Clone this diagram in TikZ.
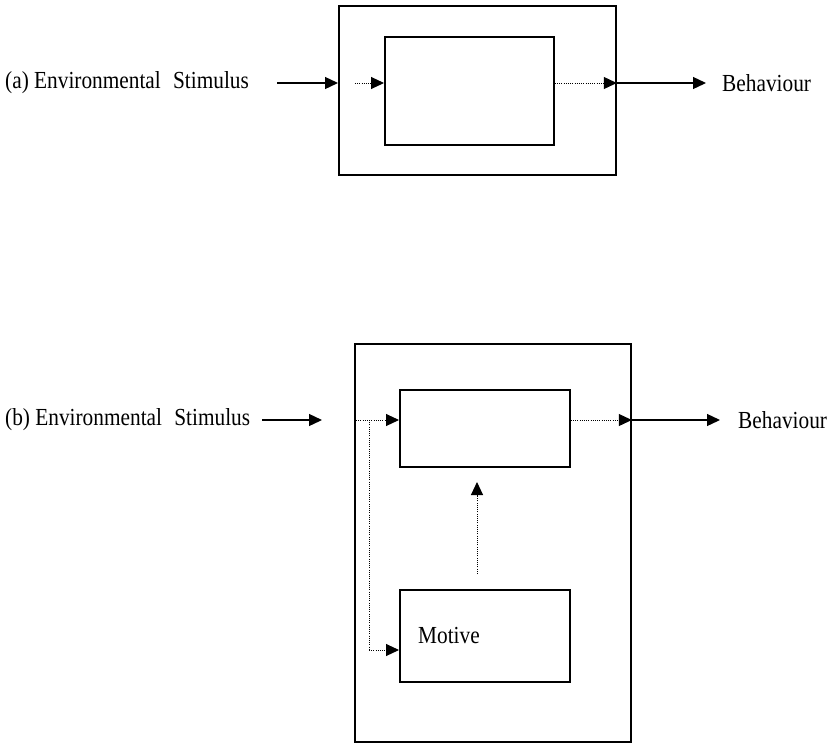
\documentclass[tikz,border=0pt]{standalone}
\usepackage{fontspec}
\setmainfont{Liberation Serif}[FakeStretch=0.87]
\usetikzlibrary{arrows.meta}
\begin{document}
\begin{tikzpicture}[x=1pt,y=-1pt,
  every node/.style={font=\fontsize{24.5}{28}\selectfont, inner sep=0pt},
  box/.style={draw, line width=1.8pt, minimum width=#1, anchor=north west},
  tip/.style={-{Triangle[length=13pt,width=12pt]}},
  solidarr/.style={tip, line width=1.3pt},
  dotarr/.style={tip, line width=1pt, dash pattern=on 1pt off 1.2pt},
  dotline/.style={line width=1pt, dash pattern=on 1pt off 1.2pt}]
\useasboundingbox (0,0) rectangle (829,742);

% ---------- (a) ----------
\node[box=277pt, minimum height=169pt] (outerA) at (338,5) {};
\node[box=169pt, minimum height=108pt] (innerA) at (384,36) {};
\node[anchor=west] (stimA) at (5,83) {(a) Environmental\hspace{0.5em}Stimulus};
\node[anchor=west] (behA) at (722,83) {Behaviour};

\coordinate (a0) at (277,83);
\coordinate (a1) at (outerA.west |- a0);
\coordinate (a2) at (355,83);
\coordinate (a3) at (innerA.west |- a0);
\coordinate (a4) at (innerA.east |- a0);
\coordinate (a5) at (outerA.east |- a0);
\coordinate (a6) at (706,83);
\draw[solidarr] (a0) -- (a1);
\draw[dotarr] (a2) -- (a3);
\draw[dotarr] (a4) -- (a5);
\draw[solidarr] (a5) -- (a6);

% ---------- (b) ----------
\node[box=276pt, minimum height=398pt] (outerB) at (354,343) {};
\node[box=170pt, minimum height=77pt] (procB) at (399,389) {};
\node[box=170pt, minimum height=92pt] (motive) at (399,589) {};
\node[anchor=west] at (418,635) {Motive};
\node[anchor=west] (stimB) at (5,420) {(b) Environmental\hspace{0.5em}Stimulus};
\node[anchor=west] (behB) at (738,420) {Behaviour};

\coordinate (b0) at (262,420);
\coordinate (b1) at (322,420);
\coordinate (b2) at (356,420);
\coordinate (b3) at (procB.west |- b0);
\coordinate (br) at (369,420);
\coordinate (bm) at (369,650);
\coordinate (b4) at (motive.west |- bm);
\coordinate (b5) at (procB.east |- b0);
\coordinate (b6) at (outerB.east |- b0);
\coordinate (b7) at (720,420);
\coordinate (m0) at (477,574);
\coordinate (m1) at (477,482);
\draw[solidarr] (b0) -- (b1);
\draw[dotarr] (b2) -- (b3);
\draw[dotline] (br) -- (bm);
\draw[dotarr] (bm) -- (b4);
\draw[dotarr] (b5) -- (b6);
\draw[solidarr] (b6) -- (b7);
\draw[dotarr] (m0) -- (m1);
\end{tikzpicture}
\end{document}
